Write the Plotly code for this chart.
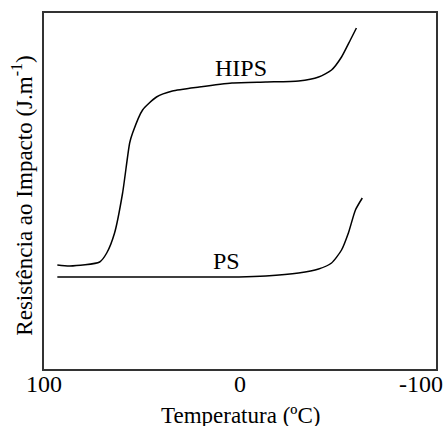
import plotly.graph_objects as go

hips_t = [93.2, 86.8, 71.6, 68.0, 64.0, 59.9, 56.3, 54.8, 49.7, 42.6, 34.5, 20.8, 4.1, -13.2, -29.9, -40.1, -46.7, -51.8, -56.3, -59.4]
hips_y = [104, 103, 107, 116, 136, 176, 226, 236, 259, 272, 278, 282, 286, 287, 288, 292, 299, 312, 329, 341]
ps_t = [93.2, 46.2, 0.5, -13.2, -29.9, -40.1, -46.7, -51.8, -55.3, -58.9, -62.4]
ps_y = [92, 92, 92, 93, 96, 100, 106, 119, 136, 159, 171]
x_ticks = [100, 0, -100]
x_tick_text = ["100", "0", "-100"]

FONT = "Liberation Serif"

fig = go.Figure()
fig.add_trace(go.Scatter(x=hips_t, y=hips_y, mode="lines", line=dict(color="black", width=1.5, shape="spline", smoothing=0.6), name="HIPS"))
fig.add_trace(go.Scatter(x=ps_t, y=ps_y, mode="lines", line=dict(color="black", width=1.5, shape="spline", smoothing=0.6), name="PS"))

fig.add_annotation(x=-0.5, y=301, text="HIPS", showarrow=False, font=dict(family=FONT, size=24, color="black"))
fig.add_annotation(x=7, y=108, text="PS", showarrow=False, font=dict(family=FONT, size=24, color="black"))

# tick labels (last one pulled inside the page edge as in the reference)
for i, (tv, tt) in enumerate(zip(x_ticks, x_tick_text)):
    last = i == len(x_ticks) - 1
    fig.add_annotation(x=tv, xref="x", y=0, yref="paper", yshift=-15, text=tt, showarrow=False,
                       xanchor="right" if last else "center", xshift=9 if last else 0, yanchor="middle",
                       font=dict(family=FONT, size=24, color="black"))

fig.add_annotation(xref="paper", yref="paper", x=0.5, y=0, yshift=-46, text="Temperatura (ºC)", showarrow=False,
                   font=dict(family=FONT, size=23, color="black"), xanchor="center", yanchor="middle")
fig.add_annotation(xref="paper", yref="paper", x=0, y=0.487, xshift=-21, text="Resistência ao Impacto (J.m<sup>-1</sup>)", showarrow=False,
                   textangle=-90, font=dict(family=FONT, size=23, color="black"), xanchor="center", yanchor="middle")

fig.update_layout(
    width=447, height=426,
    margin=dict(l=44, r=9, t=13, b=57),
    paper_bgcolor="white", plot_bgcolor="white",
    showlegend=False,
    font=dict(family=FONT, color="black"),
)
fig.update_xaxes(range=[100, -100], showticklabels=False, showgrid=False, zeroline=False,
                 showline=True, mirror=True, linecolor="#333", linewidth=1.5, ticks="")
fig.update_yaxes(range=[0, 356], showticklabels=False, showgrid=False, zeroline=False,
                 showline=True, mirror=True, linecolor="#333", linewidth=1.5, ticks="")

fig.write_html("out.html", config={"displayModeBar": False}, post_script="document.body.style.margin='0';")
